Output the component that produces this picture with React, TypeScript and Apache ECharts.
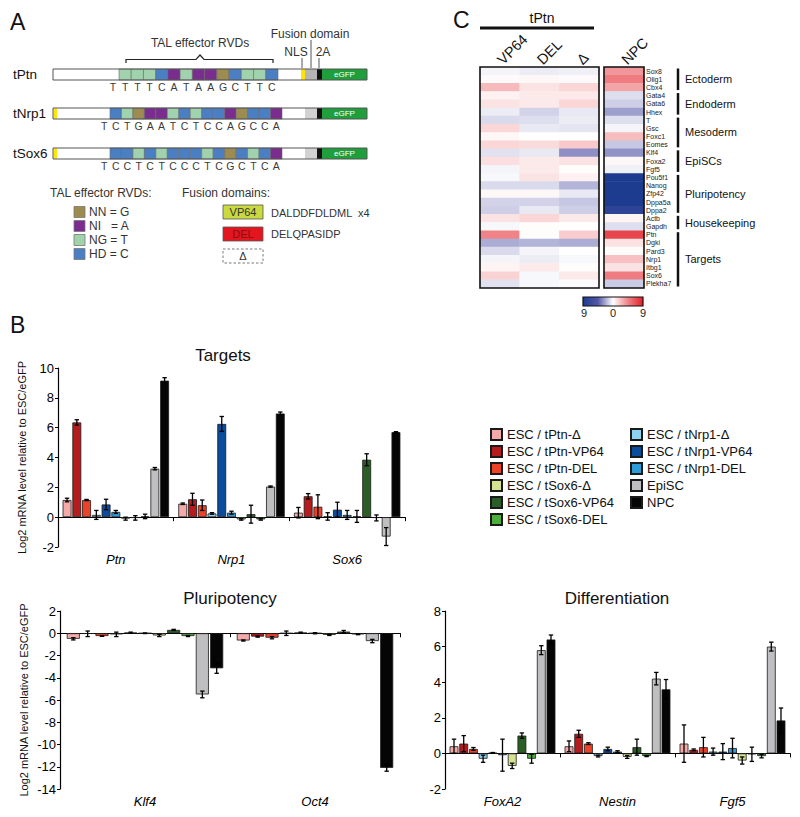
import React, { useEffect, useRef } from "react";
import * as echarts from "echarts";

const FONT = 'Arial, "Liberation Sans", Helvetica, sans-serif';

// ---------------- Panel B data ----------------
const seriesNames = [
  "ESC / tPtn-Δ", "ESC / tPtn-VP64", "ESC / tPtn-DEL",
  "ESC / tNrp1-Δ", "ESC / tNrp1-VP64", "ESC / tNrp1-DEL",
  "ESC / tSox6-Δ", "ESC / tSox6-VP64", "ESC / tSox6-DEL",
  "EpiSC", "NPC",
];
const seriesColors = [
  "#f4aaa9", "#b41c1d", "#ec4227",
  "#8dd3ef", "#0b4c9c", "#2c9bd7",
  "#d5e291", "#2a5e26", "#4cae3b",
  "#bfbfc1", "#050505",
];
const legendCol1 = [0, 1, 2, 6, 7, 8].map((i) => seriesNames[i]);
const legendCol2 = [3, 4, 5, 9, 10].map((i) => seriesNames[i]);

const targetGenes = ["Ptn", "Nrp1", "Sox6"];
const ptnMean = [1.15, 6.35, 1.15, 0.15, 0.85, 0.35, -0.1, -0.05, 0.05, 3.25, 9.15];
const ptnErr = [0.12, 0.18, 0.04, 0.3, 0.35, 0.1, 0.1, 0.15, 0.15, 0.08, 0.2];
const nrp1Mean = [0.9, 1.2, 0.8, 0.25, 6.25, 0.3, -0.15, 0.2, -0.15, 2.05, 6.95];
const nrp1Err = [0.05, 0.4, 0.35, 0.05, 0.5, 0.1, 0.05, 0.6, 0.05, 0.04, 0.1];
const sox6Mean = [0.3, 1.4, 0.7, 0.05, 0.5, 0.15, 0.05, 3.85, -0.05, -1.3, 5.7];
const sox6Err = [0.35, 0.18, 0.8, 0.25, 0.5, 0.3, 0.4, 0.4, 0.2, 0.6, 0.03];

const pluriGenes = ["Klf4", "Oct4"];
const klf4Mean = [-0.5, -0.05, -0.25, -0.1, 0.05, 0.0, -0.2, 0.3, -0.25, -5.5, -3.15];
const klf4Err = [0.1, 0.25, 0.03, 0.2, 0.05, 0.03, 0.1, 0.05, 0.05, 0.3, 0.45];
const oct4Mean = [-0.65, -0.3, -0.4, 0.0, 0.05, 0.0, -0.15, 0.15, -0.1, -0.7, -12.1];
const oct4Err = [0.05, 0.05, 0.1, 0.2, 0.05, 0.05, 0.05, 0.1, 0.03, 0.15, 0.3];

const diffGenes = ["FoxA2", "Nestin", "Fgf5"];
const foxa2Mean = [0.4, 0.55, 0.25, -0.3, 0.03, -0.1, -0.7, 1.0, -0.3, 5.8, 6.4];
const foxa2Err = [0.4, 0.45, 0.08, 0.2, 0.02, 0.9, 0.15, 0.15, 0.25, 0.25, 0.25];
const nestinMean = [0.4, 1.1, 0.55, -0.15, 0.25, 0.1, -0.2, 0.35, -0.15, 4.2, 3.6];
const nestinErr = [0.3, 0.2, 0.05, 0.05, 0.1, 0.05, 0.08, 0.45, 0.03, 0.35, 0.55];
const fgf5Mean = [0.55, 0.2, 0.35, 0.1, 0.1, 0.3, -0.4, -0.05, -0.15, 6.0, 1.85];
const fgf5Err = [1.05, 0.05, 0.55, 0.2, 0.45, 0.55, 0.2, 0.4, 0.1, 0.25, 0.7];

const yLabel = "Log2 mRNA level relative to ESC/eGFP";

// ---------------- Panel C data ----------------
const heatGenes = [
  "Sox8", "Olig1", "Cbx4", "Gata4", "Gata6", "Hhex", "T", "Gsc", "Foxc1", "Eomes",
  "Klf4", "Foxa2", "Fgf5", "Pou5f1", "Nanog", "Zfp42", "Dppa5a", "Dppa2",
  "Actb", "Gapdh", "Ptn", "Dgki", "Pard3", "Nrp1", "Itbg1", "Sox6", "Plekha7",
];
const heatColumns = ["VP64", "DEL", "Δ"];
const hmVP64 = [-0.3, 0.2, 2.5, 0.5, 1.0, -0.5, -1.0, 1.5, 0.3, 1.5, -0.8, 1.2, -0.3, -0.2, -1.0, 0.3, -1.2, -1.3, 1.0, -0.2, 4.5, -2.2, -1.0, -0.3, 0.4, 1.6, -0.8];
const hmDEL = [-0.5, 0.3, 1.0, 0.8, 0.8, -1.2, -0.9, -0.6, 0.0, 1.3, -0.6, 0.8, 0.8, 1.0, -1.0, 0.3, -1.2, -0.6, 1.5, 0.1, 0.1, -2.0, -0.3, -0.5, 0.8, -0.2, -0.2];
const hmDelta = [-0.4, 0.2, 1.5, 0.8, 1.5, -0.6, -0.5, -0.7, 0.0, 2.0, -3.0, 1.0, 0.1, 0.5, -2.0, -0.6, -1.5, -1.3, 0.8, 0.0, 1.8, -2.2, 0.0, -0.2, 0.1, 0.8, -0.1];
const hmNPC = [3.8, 4.8, 3.3, -0.9, -1.3, -2.6, -0.9, -0.3, 2.4, -1.5, -2.9, 0.3, -0.4, -9, -9, -9, -9, -7.8, 0.4, -0.9, 7.2, 1.0, 0.1, 2.3, 1.0, 4.8, -1.4];
const heatGroups = [
  ["Ectoderm", 0, 3], ["Endoderm", 3, 6], ["Mesoderm", 6, 10], ["EpiSCs", 10, 13],
  ["Pluripotency", 13, 18], ["Housekeeping", 18, 20], ["Targets", 20, 27],
];
const heatColors = ["#1d3c90", "#5558a8", "#ffffff", "#ef8387", "#e41e26"];

// ---------------- Panel A data ----------------
const tPtnSeq = "TTTTCATAAGCTTC";
const tNrp1Seq = "TCTGAATCTCCAGCCA";
const tSox6Seq = "TCCTCTCCCTCGCTCA";
const rvdLegend = [["NN = G", "G"], ["NI   = A", "A"], ["NG = T", "T"], ["HD = C", "C"]];
const rvdColor: Record<string, string> = { G: "#9c8c50", A: "#7b2c8f", T: "#a0d2ad", C: "#4b7fc4" };

// ---------------- helpers ----------------
const txt = (text: string, x: number, y: number, size: number, align = "left", extra: any = {}) => ({
  type: "text",
  x,
  y,
  z: 50,
  style: {
    text,
    fontSize: size,
    fontFamily: FONT,
    fill: "#222",
    textAlign: align,
    textVerticalAlign: "middle",
    ...extra,
  },
});
const rect = (x: number, y: number, w: number, h: number, fill: string, stroke = "none", lw = 0.8, extra: any = {}) => ({
  type: "rect",
  z: 40,
  shape: { x, y, width: w, height: h },
  style: { fill, stroke, lineWidth: lw, ...extra },
});
const line = (x1: number, y1: number, x2: number, y2: number, lw = 1, color = "#333") => ({
  type: "line",
  z: 45,
  shape: { x1, y1, x2, y2 },
  style: { stroke: color, lineWidth: lw },
});

function constructEls(label: string, seq: string, y: number, boxStart: number, boxEnd: number, leadYellow: boolean, nls: boolean, fusionFill: string) {
  const els: any[] = [];
  const x0 = 53, x1 = 367, h = 11;
  els.push(txt(label, 13, y + h / 2, 13.5, "left", { fill: "#111" }));
  els.push(rect(x0, y, x1 - x0, h, "#ffffff"));
  if (leadYellow) els.push(rect(x0 + 0.5, y + 0.5, 3.5, h - 1, "#ffe600"));
  const n = seq.length - 1;
  const w = (boxEnd - boxStart) / n;
  for (let i = 1; i <= n; i++) {
    els.push(rect(boxStart + (i - 1) * w, y, w, h, rvdColor[seq[i]], "#6a6a6a", 0.6));
  }
  for (let i = 0; i <= n; i++) {
    els.push(txt(seq[i], boxStart - w / 2 + i * w, y + h + 7, 10.5, "center", { fill: "#3a3a3a" }));
  }
  if (nls) els.push(rect(301, y, 4, h, "#ffe600"));
  els.push(rect(305, y, 12, h, fusionFill));
  els.push(rect(317, y, 5, h, "#111111"));
  els.push(rect(322, y, 45, h, "#1f9f3b"));
  els.push(txt("eGFP", 344.5, y + h / 2, 8, "center", { fill: "#ffffff" }));
  els.push(rect(x0, y, x1 - x0, h, "none", "#555", 1));
  return els;
}

const CAT_GAP = 0.08;
const BAR_GAP = 0.1;
const N_SERIES = seriesNames.length;

function errorRender(params: any, api: any) {
  const cat = api.value(0);
  const s = api.value(1);
  const v = api.value(2);
  const e = api.value(3);
  const band = api.size([1, 0])[0];
  const inner = band * (1 - CAT_GAP);
  const w = inner / (N_SERIES + (N_SERIES - 1) * BAR_GAP);
  const center = api.coord([cat, 0])[0];
  const x = center - inner / 2 + s * w * (1 + BAR_GAP) + w / 2;
  const yTop = api.coord([cat, v + e])[1];
  const yBot = api.coord([cat, v - e])[1];
  const cap = Math.min(2.2, w * 0.3);
  const st = { stroke: "#000", lineWidth: 1.3 };
  return {
    type: "group",
    children: [
      { type: "line", shape: { x1: x, y1: yTop, x2: x, y2: yBot }, style: st },
      { type: "line", shape: { x1: x - cap, y1: yTop, x2: x + cap, y2: yTop }, style: st },
      { type: "line", shape: { x1: x - cap, y1: yBot, x2: x + cap, y2: yBot }, style: st },
    ],
  };
}

function barBlock(k: number, means: number[][], errs: number[][]) {
  const out: any[] = [];
  for (let s = 0; s < N_SERIES; s++) {
    out.push({
      type: "bar",
      name: seriesNames[s],
      xAxisIndex: 2 * k,
      yAxisIndex: k,
      data: means.map((m) => m[s]),
      barGap: BAR_GAP * 100 + "%",
      barCategoryGap: CAT_GAP * 100 + "%",
      itemStyle: { color: seriesColors[s], borderColor: "#1a1a1a", borderWidth: 0.8 },
    });
  }
  const errData: number[][] = [];
  means.forEach((m, gi) => m.forEach((v, s) => errData.push([gi, s, v, errs[gi][s]])));
  out.push({
    type: "custom",
    xAxisIndex: 2 * k,
    yAxisIndex: k,
    z: 5,
    clip: false,
    encode: { x: 0, y: 2 },
    renderItem: errorRender,
    data: errData,
  });
  return out;
}

function barAxes(k: number, genes: string[], min: number, max: number, named: boolean) {
  const xs = [
    {
      type: "category",
      gridIndex: k,
      data: genes,
      position: "bottom",
      axisLine: { onZero: true, lineStyle: { color: "#000", width: 1.2 } },
      axisTick: { show: true, length: 4, lineStyle: { color: "#000" } },
      axisLabel: { show: false },
      splitLine: { show: false },
    },
    {
      type: "category",
      gridIndex: k,
      data: genes,
      position: "bottom",
      axisLine: { show: false, onZero: false },
      axisTick: { show: false },
      axisLabel: { fontSize: 13, fontStyle: "italic", color: "#000", margin: 6, fontFamily: FONT },
      splitLine: { show: false },
    },
  ];
  const y = {
    type: "value",
    gridIndex: k,
    min,
    max,
    interval: 2,
    axisLine: { show: true, lineStyle: { color: "#000", width: 1.2 } },
    axisTick: { show: true, length: 3, lineStyle: { color: "#000" } },
    axisLabel: { fontSize: 13, color: "#000", margin: 4, fontFamily: FONT },
    splitLine: { show: false },
    name: named ? yLabel : "",
    nameLocation: "middle",
    nameGap: 31,
    nameTextStyle: { fontSize: 11, color: "#111", fontFamily: FONT },
  };
  return { xs, y };
}

export default function App() {
  const ref = useRef<HTMLDivElement>(null);
  useEffect(() => {
    if (!ref.current) return;
    const chart = echarts.init(ref.current, undefined, { renderer: "svg" });

    const a0 = barAxes(0, targetGenes, -2, 10, true);
    const a1 = barAxes(1, pluriGenes, -14, 2, true);
    const a2 = barAxes(2, diffGenes, -2, 8, false);

    const series: any[] = [
      ...barBlock(0, [ptnMean, nrp1Mean, sox6Mean], [ptnErr, nrp1Err, sox6Err]),
      ...barBlock(1, [klf4Mean, oct4Mean], [klf4Err, oct4Err]),
      ...barBlock(2, [foxa2Mean, nestinMean, fgf5Mean], [foxa2Err, nestinErr, fgf5Err]),
    ];
    const heatData: number[][] = [];
    [hmVP64, hmDEL, hmDelta].forEach((col, c) => col.forEach((v, r) => heatData.push([c, r, v])));
    const npcData = hmNPC.map((v, r) => [0, r, v]);
    const h1 = series.length;
    series.push({ type: "heatmap", xAxisIndex: 6, yAxisIndex: 3, data: heatData });
    series.push({ type: "heatmap", xAxisIndex: 7, yAxisIndex: 4, data: npcData });

    // graphics
    const g: any[] = [];
    g.push(txt("A", 10, 22, 23, "left", { fill: "#111" }));
    g.push(txt("B", 10, 325, 23, "left", { fill: "#111" }));
    g.push(txt("C", 453, 20, 23, "left", { fill: "#111" }));

    // Panel A constructs
    g.push(...constructEls("tPtn", tPtnSeq, 69, 119, 278, false, true, "#b5b5b5"));
    g.push(...constructEls("tNrp1", tNrp1Seq, 108, 110, 282, true, false, "#d2d2d2"));
    g.push(...constructEls("tSox6", tSox6Seq, 148, 110, 282, true, false, "#d2d2d2"));
    g.push(txt("TAL effector RVDs", 200, 43, 12, "center", { fill: "#333" }));
    g.push({
      type: "polyline",
      z: 45,
      shape: { points: [[126, 63], [126, 59.5], [196, 59.5], [200, 55], [204, 59.5], [273, 59.5], [273, 63]] },
      style: { stroke: "#222", lineWidth: 1.2, fill: "none" },
    });
    g.push(txt("Fusion domain", 310, 34, 12, "center", { fill: "#333" }));
    g.push(line(311, 40, 311, 68, 1, "#555"));
    g.push(txt("NLS", 296, 52, 12, "center", { fill: "#333" }));
    g.push(line(302, 58, 302, 68, 1, "#555"));
    g.push(txt("2A", 323, 52, 12, "center", { fill: "#333" }));
    g.push(line(319, 58, 319, 68, 1, "#555"));

    // Panel A legends
    g.push(txt("TAL effector RVDs:", 50, 193, 12, "left", { fill: "#333" }));
    rvdLegend.forEach(([label, base], i) => {
      const cy = 212 + i * 14;
      g.push(rect(74, cy - 5.5, 11, 11, rvdColor[base], "#777", 0.8));
      g.push(txt(label, 89, cy, 12, "left", { fill: "#333" }));
    });
    g.push(txt("Fusion domains:", 182, 193, 12, "left", { fill: "#333" }));
    g.push(rect(223, 205, 40, 14, "#c8da3f", "#555", 0.8));
    g.push(txt("VP64", 243, 212, 11, "center", { fill: "#333" }));
    g.push(txt("DALDDFDLDML", 271, 213, 11, "left", { fill: "#333" }));
    g.push(txt("x4", 358, 213, 11, "left", { fill: "#333" }));
    g.push(rect(223, 227, 40, 14, "#e3161f", "#555", 0.8));
    g.push(txt("DEL", 243, 234, 11, "center", { fill: "#8b0d12" }));
    g.push(txt("DELQPASIDP", 271, 234, 11, "left", { fill: "#333" }));
    g.push(rect(223, 249, 40, 14, "none", "#555", 0.8, { lineDash: [2.5, 2] }));
    g.push(txt("Δ", 243, 256, 11, "center", { fill: "#333" }));

    // Panel B titles
    g.push(txt("Targets", 223, 355, 17, "center", { fill: "#111" }));
    g.push(txt("Pluripotency", 230, 598, 17, "center", { fill: "#111" }));
    g.push(txt("Differentiation", 617, 598, 17, "center", { fill: "#111" }));

    // Panel C decorations
    g.push(txt("tPtn", 542, 18, 14, "center", { fill: "#111" }));
    g.push(line(480, 28, 594, 28, 3, "#111"));
    g.push(rect(480, 67, 119, 221, "none", "#111", 1.6, {}));
    g.push(rect(604, 67, 40, 221, "none", "#111", 1.6, {}));
    const rowH = 221 / heatGenes.length;
    heatGroups.forEach(([name, s, e]: any) => {
      g.push(line(678, 67 + s * rowH + 1.5, 678, 67 + e * rowH - 1.5, 2.5, "#111"));
      g.push(txt(name, 685, 67 + ((s + e) / 2) * rowH, 11, "left", { fill: "#111" }));
    });
    g.push({
      type: "rect",
      z: 40,
      shape: { x: 583, y: 297, width: 60, height: 9 },
      style: {
        fill: new echarts.graphic.LinearGradient(0, 0, 1, 0, heatColors.map((c, i) => ({ offset: i / (heatColors.length - 1), color: c }))),
        stroke: "#111",
        lineWidth: 1.2,
      },
    });
    g.push(txt("9", 584, 313, 11, "center", { fill: "#222" }));
    g.push(txt("0", 613, 313, 11, "center", { fill: "#222" }));
    g.push(txt("9", 643, 313, 11, "center", { fill: "#222" }));

    const legendBase = {
      orient: "vertical",
      top: 423,
      itemGap: 4,
      itemWidth: 11,
      itemHeight: 11,
      icon: "rect",
      selectedMode: false,
      textStyle: { fontSize: 13, color: "#111", fontFamily: FONT },
    };

    const heatXLabel = { rotate: -45, fontSize: 14.5, color: "#111", margin: 5, fontFamily: FONT, interval: 0 };

    const option: any = {
      animation: false,
      backgroundColor: "#ffffff",
      textStyle: { fontFamily: FONT },
      legend: [
        { ...legendBase, left: 485, data: legendCol1 },
        { ...legendBase, left: 625, data: legendCol2 },
      ],
      grid: [
        { left: 58, top: 368, width: 347, height: 179 },
        { left: 60, top: 611, width: 340, height: 178 },
        { left: 445, top: 611, width: 345, height: 178 },
        { left: 480, top: 67, width: 119, height: 221 },
        { left: 604, top: 67, width: 40, height: 221 },
      ],
      xAxis: [
        ...a0.xs,
        ...a1.xs,
        ...a2.xs,
        {
          type: "category",
          gridIndex: 3,
          position: "top",
          data: heatColumns,
          axisLine: { show: false },
          axisTick: { show: false },
          axisLabel: heatXLabel,
        },
        {
          type: "category",
          gridIndex: 4,
          position: "top",
          data: ["NPC"],
          axisLine: { show: false },
          axisTick: { show: false },
          axisLabel: heatXLabel,
        },
      ],
      yAxis: [
        a0.y,
        a1.y,
        a2.y,
        { type: "category", gridIndex: 3, data: heatGenes, inverse: true, show: false },
        {
          type: "category",
          gridIndex: 4,
          data: heatGenes,
          inverse: true,
          position: "right",
          axisLine: { show: false },
          axisTick: { show: false },
          axisLabel: { fontSize: 7, color: "#222", margin: 2, fontFamily: FONT, interval: 0, lineHeight: 7 },
        },
      ],
      visualMap: {
        show: false,
        type: "continuous",
        min: -9,
        max: 9,
        seriesIndex: [h1, h1 + 1],
        inRange: { color: heatColors },
      },
      series,
      graphic: { elements: g },
    };
    chart.setOption(option);
    return () => chart.dispose();
  }, []);
  return <div ref={ref} style={{ position: "absolute", left: 0, top: 0, width: 800, height: 817 }} />;
}
